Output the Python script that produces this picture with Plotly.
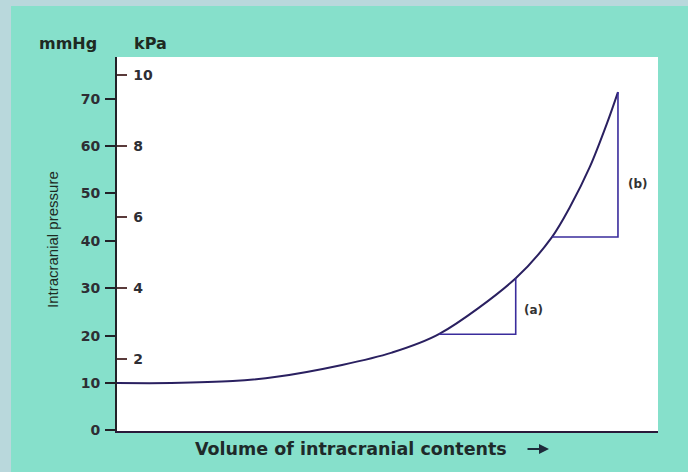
import plotly.graph_objects as go

# ---- data ----
volume = [0, 10, 21.4, 29.5, 41.6, 50.8, 59.5, 73.7, 80.4, 83.7, 87.4, 90.6, 92.6]
pressure_mmhg = [10, 10, 10.4, 11.3, 13.8, 16.4, 20.3, 32.1, 40.8, 47.1, 55.6, 64.9, 71.4]
tri_a_x = [59.5, 73.7, 73.7]
tri_a_y = [20.3, 20.3, 32.1]
tri_b_x = [80.4, 92.6, 92.6]
tri_b_y = [40.8, 40.8, 71.4]
mmhg_ticks = [0, 10, 20, 30, 40, 50, 60, 70]
kpa_ticks = [2, 4, 6, 8, 10]
MMHG_PER_KPA = 7.5

W, H = 688, 472
L, R, T, B = 117, 30, 57, 41
pw, ph = W - L - R, H - T - B

def px(x):
    return (x - L) / pw

def py(y):
    return (H - B - y) / ph

ymin, ymax = -0.13, 78.8
TEAL = "#86e0cb"
BORDER = "#b9d8dc"
INK = "#222228"
LINE = "#2a2060"

fig = go.Figure()
fig.add_trace(go.Scatter(x=volume, y=pressure_mmhg, mode="lines",
                         line=dict(color=LINE, width=2, shape="spline", smoothing=0.9),
                         hoverinfo="skip", showlegend=False))
for tx, ty in [(tri_a_x, tri_a_y), (tri_b_x, tri_b_y)]:
    fig.add_trace(go.Scatter(x=tx, y=ty, mode="lines",
                             line=dict(color="#3a2c9c", width=1.6),
                             hoverinfo="skip", showlegend=False))
# invisible trace for the kPa axis
fig.add_trace(go.Scatter(x=[0], y=[0], yaxis="y2", mode="markers",
                         marker=dict(opacity=0), hoverinfo="skip", showlegend=False))

tickfont = dict(family="DejaVu Sans", size=14, color="#2e2e34", weight="bold")

def note(text, x, y, size, family="DejaVu Sans", angle=0, color="#1e2a22"):
    return dict(text=text, x=x, y=y, xref="paper", yref="paper", showarrow=False,
                xanchor="center", yanchor="middle", textangle=angle,
                font=dict(family=family, size=size, color=color))

fig.update_layout(
    width=W, height=H,
    margin=dict(l=L, r=R, t=T, b=B, pad=0),
    paper_bgcolor=TEAL, plot_bgcolor="white",
    xaxis=dict(range=[0, 100], showgrid=False, zeroline=False, showticklabels=False,
               ticks="", showline=True, linecolor="#2a1a3a", linewidth=2),
    yaxis=dict(range=[ymin, ymax], tickvals=mmhg_ticks, ticks="outside", ticklen=10,
               tickwidth=2, tickcolor=INK, showgrid=False, zeroline=False,
               showline=True, linecolor=INK, linewidth=2, tickfont=tickfont,
               ticklabelstandoff=2),
    yaxis2=dict(range=[ymin / MMHG_PER_KPA, ymax / MMHG_PER_KPA], tickvals=kpa_ticks,
                overlaying="y", side="left", anchor="x", ticks="inside", ticklen=10,
                tickwidth=2, tickcolor="#5a3a3a", showgrid=False, zeroline=False,
                showline=False, tickfont=tickfont, ticklabelposition="inside",
                ticklabelstandoff=6),
    shapes=[
        dict(type="rect", xref="paper", yref="paper", x0=px(0), x1=px(11), y0=py(H), y1=py(0),
             fillcolor=BORDER, line=dict(width=0)),
        dict(type="rect", xref="paper", yref="paper", x0=px(0), x1=px(W), y0=py(6), y1=py(0),
             fillcolor=BORDER, line=dict(width=0)),
    ],
    annotations=[
        note("<b>mmHg</b>", px(68), py(43), 16),
        note("<b>kPa</b>", px(150), py(43), 16),
        note("Intracranial pressure", px(53), py(240), 15, family="Liberation Sans", angle=-90),
        note("<b>Volume of intracranial contents</b>", px(351), py(449), 17.5, color="#1e2a2a"),
        dict(text="", x=px(549), y=py(449), xref="paper", yref="paper", showarrow=True,
             ax=-23, ay=0, arrowhead=2, arrowsize=1, arrowwidth=2, arrowcolor="#1e2a3a"),
        dict(text="<b>(a)</b>", x=73.7, y=25.5, xshift=18, showarrow=False,
             font=dict(family="DejaVu Sans", size=12, color="#333")),
        dict(text="<b>(b)</b>", x=92.6, y=52.0, xshift=20, showarrow=False,
             font=dict(family="DejaVu Sans", size=12, color="#333")),
    ],
)
fig.write_html("out.html", config={"displayModeBar": False},
               post_script="document.body.style.margin='0';")
